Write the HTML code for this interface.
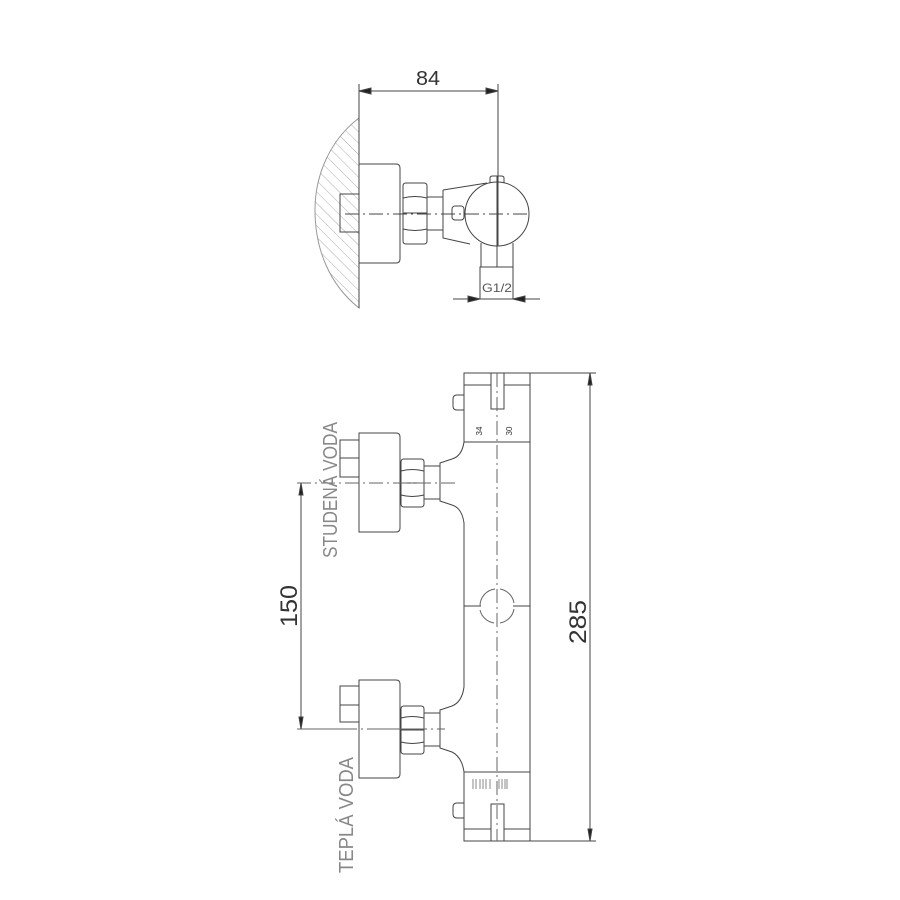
<!DOCTYPE html>
<html><head><meta charset="utf-8"><style>html,body{margin:0;padding:0;background:#fff}svg{display:block}</style></head>
<body>
<svg width="900" height="900" viewBox="0 0 900 900" xmlns="http://www.w3.org/2000/svg">
<defs>
<pattern id="h" width="8" height="8" patternUnits="userSpaceOnUse" patternTransform="rotate(-45)">
<line x1="0" y1="0" x2="0" y2="8" stroke="#999" stroke-width="0.8"/>
</pattern>
</defs>
<g fill="none" stroke="#444" stroke-width="1">
<!-- TOP VIEW -->
<path d="M359,118 C330,140 315,175 315,210 C315,250 330,285 359,308 Z" fill="url(#h)" stroke="#999"/>
<line x1="359" y1="84" x2="359" y2="308"/>
<line x1="498" y1="84" x2="498" y2="246"/>
<line x1="359" y1="91" x2="498" y2="91"/>
<path d="M359,91 l12,-3 v6 z M498,91 l-12,-3 v6 z" fill="#222"/>
<path d="M359,164 H396 Q400,164 400,168 V259 Q400,263 396,263 H359"/>
<rect x="340" y="194" width="19" height="38"/>
<path d="M403,186 Q403,183 406,183 H424 Q427,183 427,186 V241 Q427,244 424,244 H406 Q403,244 403,241 Z"/>
<path d="M403,198 Q415,195 427,198 M403,213 H427 M403,229 Q415,232 427,229"/>
<rect x="427" y="197" width="16" height="33"/>
<path d="M443,190 L487,183 M443,190 V238 L470,244"/>
<rect x="452" y="206" width="12" height="14" rx="3"/>
<circle cx="497" cy="214" r="32"/>
<path d="M490,183 V178 Q490,176 493,176 H501 Q504,176 504,178 V183"/>
<path d="M481,243 V267 M513,243 V267"/>
<rect x="480" y="267" width="33" height="32"/>
<line x1="453" y1="299" x2="540" y2="299"/>
<path d="M480,299 l-12,-3 v6 z M513,299 l12,-3 v6 z" fill="#222"/>
<line x1="345" y1="214" x2="530" y2="214" stroke-dasharray="14,4,2,4"/>
<line x1="497" y1="176" x2="497" y2="267"/>

<!-- FRONT VIEW body -->
<path d="M464,373 H530 V841 H464 V772 Q462,757 452,752 L440,748 V710 L452,706 Q462,702 464,687 V523 Q462,508 452,505 L440,501 V463 L452,459 Q462,456 464,442 Z"/>
<line x1="464" y1="442" x2="530" y2="442"/>
<line x1="464" y1="772" x2="530" y2="772"/>
<line x1="464" y1="385" x2="491" y2="385"/>
<line x1="504" y1="385" x2="530" y2="385"/>
<rect x="491" y="373" width="13" height="36"/>
<path d="M464,395 H457 Q453,395 453,399 V406 Q453,410 457,410 H464"/>
<line x1="464" y1="829" x2="491" y2="829"/>
<line x1="504" y1="829" x2="530" y2="829"/>
<rect x="491" y="804" width="13" height="37"/>
<path d="M464,803 H457 Q453,803 453,807 V814 Q453,818 457,818 H464"/>
<line x1="497" y1="373" x2="497" y2="841" stroke-dasharray="14,4,2,4" stroke="#666"/>
<line x1="464" y1="606" x2="481" y2="606"/>
<line x1="513" y1="606" x2="530" y2="606"/>
<path d="M480,606 A17,17 0 0 1 495,589 M500,589 A17,17 0 0 1 514,603 M514,609 A17,17 0 0 1 500,623 M494,623 A17,17 0 0 1 480,610" stroke="#666"/>
<g stroke="#888"><path d="M473,779v10M476,779v10M480,779v10M483,779v10M486,779v10M490,779v10M499,779v10M502,779v10M505,779v10M507,779v10"/></g>

<!-- upper inlet -->
<path d="M359,433 H396 Q400,433 400,437 V528 Q400,532 396,532 H359 Z"/>
<rect x="340" y="440" width="19" height="37"/>
<line x1="340" y1="458" x2="359" y2="458"/>
<path d="M401,462 Q401,459 404,459 H421 Q424,459 424,462 V504 Q424,507 421,507 H404 Q401,507 401,504 Z"/>
<path d="M401,471 Q412,468 424,471 M401,483 H424 M401,495 Q412,498 424,495"/>
<rect x="424" y="466" width="16" height="33"/>
<line x1="297" y1="483" x2="455" y2="483" stroke-dasharray="14,4,2,4" stroke="#666"/>
<!-- lower inlet -->
<path d="M359,680 H396 Q400,680 400,684 V774 Q400,778 396,778 H359 Z"/>
<rect x="340" y="686" width="19" height="36"/>
<line x1="340" y1="705" x2="359" y2="705"/>
<path d="M401,709 Q401,706 404,706 H421 Q424,706 424,709 V751 Q424,754 421,754 H404 Q401,754 401,751 Z"/>
<path d="M401,718 Q412,715 424,718 M401,730 H424 M401,742 Q412,745 424,742"/>
<rect x="424" y="713" width="16" height="33"/>
<line x1="297" y1="729" x2="445" y2="729" stroke-dasharray="60,4,2,4" stroke="#666"/>

<!-- dims -->
<line x1="301" y1="483" x2="301" y2="729"/>
<path d="M301,483 l-2,12 h4 z M301,729 l-2,-12 h4 z" fill="#222"/>
<line x1="530" y1="373" x2="596" y2="373"/>
<line x1="530" y1="841" x2="596" y2="841"/>
<line x1="590" y1="373" x2="590" y2="841"/>
<path d="M590,373 l-2,12 h4 z M590,841 l-2,-12 h4 z" fill="#222"/>
</g>
<g font-family="Liberation Sans, sans-serif" fill="#333">
<text x="428" y="85" font-size="20" text-anchor="middle" textLength="24" lengthAdjust="spacingAndGlyphs">84</text>
<text x="497" y="292" font-size="12" text-anchor="middle" fill="#555" textLength="30" lengthAdjust="spacingAndGlyphs">G1/2</text>
<text transform="translate(297,606) rotate(-90)" font-size="24" text-anchor="middle" textLength="42" lengthAdjust="spacingAndGlyphs">150</text>
<text transform="translate(586,622) rotate(-90)" font-size="24" text-anchor="middle" textLength="44" lengthAdjust="spacingAndGlyphs">285</text>
<text transform="translate(337,490) rotate(-90)" font-size="20" text-anchor="middle" fill="#888" textLength="136" lengthAdjust="spacingAndGlyphs">STUDENÁ VODA</text>
<text transform="translate(353,815) rotate(-90)" font-size="20" text-anchor="middle" fill="#888" textLength="116" lengthAdjust="spacingAndGlyphs">TEPLÁ VODA</text>
<text transform="translate(482,431) rotate(-90)" font-size="8" text-anchor="middle">34</text>
<text transform="translate(512,431) rotate(-90)" font-size="8" text-anchor="middle">30</text>
</g>
</svg>
</body></html>
